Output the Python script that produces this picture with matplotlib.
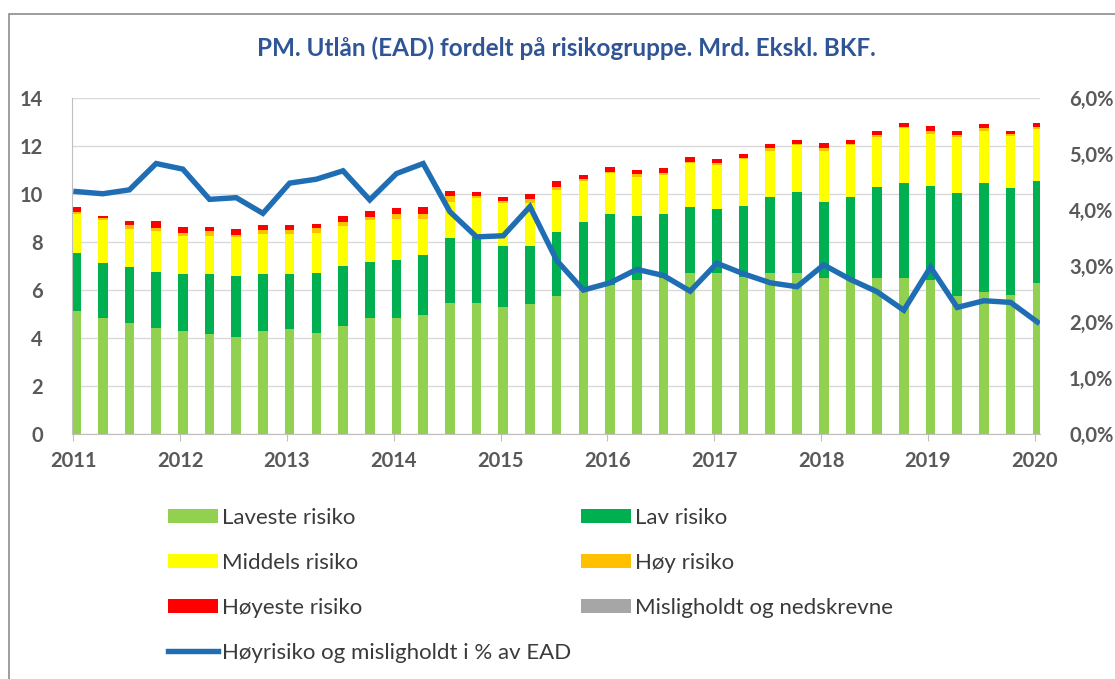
import matplotlib
matplotlib.use('Agg')
import matplotlib.pyplot as plt
from matplotlib.patches import Rectangle
from matplotlib.ticker import FuncFormatter
import numpy as np

plt.rcParams['font.family'] = ['Lato', 'DejaVu Sans']

# quarterly observations 2011 Q1 .. 2020 Q1 (37 points), mrd kr
laveste = [5.14, 4.82, 4.64, 4.43, 4.29, 4.17, 4.06, 4.31, 4.36, 4.22,
           4.50, 4.82, 4.82, 4.96, 5.47, 5.47, 5.28, 5.42, 5.75, 6.00,
           6.20, 6.42, 6.50, 6.72, 6.70, 6.56, 6.72, 6.72, 6.49, 6.42,
           6.49, 6.49, 6.40, 5.75, 5.93, 5.79, 6.31]
lav_top = [7.53, 7.14, 6.94, 6.74, 6.67, 6.67, 6.60, 6.67, 6.67, 6.72,
           7.00, 7.18, 7.25, 7.44, 8.18, 8.22, 7.83, 7.83, 8.43, 8.85,
           9.17, 9.10, 9.17, 9.44, 9.38, 9.50, 9.89, 10.10, 9.68, 9.89,
           10.28, 10.47, 10.33, 10.03, 10.47, 10.24, 10.56]
middels_top = [9.17, 8.92, 8.53, 8.47, 8.25, 8.26, 8.21, 8.33, 8.33, 8.39,
               8.67, 8.92, 8.96, 8.96, 9.68, 9.82, 9.61, 9.61, 10.17, 10.54,
               10.86, 10.72, 10.79, 11.28, 11.21, 11.44, 11.80, 12.04, 11.80, 12.04,
               12.39, 12.74, 12.50, 12.39, 12.64, 12.42, 12.70]
hoy_top = [9.27, 8.99, 8.71, 8.60, 8.39, 8.44, 8.31, 8.50, 8.50, 8.57,
           8.85, 9.06, 9.15, 9.15, 9.90, 9.92, 9.71, 9.78, 10.28, 10.63,
           10.93, 10.82, 10.89, 11.35, 11.31, 11.51, 11.90, 12.10, 11.90, 12.10,
           12.46, 12.81, 12.64, 12.46, 12.74, 12.50, 12.81]
hoyeste_top = [9.47, 9.08, 8.89, 8.89, 8.61, 8.61, 8.56, 8.69, 8.69, 8.75,
               9.08, 9.29, 9.40, 9.47, 10.13, 10.07, 9.86, 9.99, 10.54, 10.79,
               11.14, 11.00, 11.07, 11.53, 11.46, 11.67, 12.07, 12.25, 12.11, 12.25,
               12.64, 12.94, 12.83, 12.63, 12.90, 12.64, 12.97]
# Høyrisiko og misligholdt i % av EAD
andel = [4.33, 4.29, 4.36, 4.83, 4.73, 4.19, 4.22, 3.94, 4.48, 4.55,
         4.70, 4.18, 4.65, 4.83, 3.97, 3.52, 3.54, 4.06, 3.10, 2.57,
         2.70, 2.94, 2.83, 2.55, 3.05, 2.86, 2.70, 2.63, 3.02, 2.76,
         2.54, 2.21, 2.98, 2.26, 2.38, 2.35, 2.00]
years = [2011, 2012, 2013, 2014, 2015, 2016, 2017, 2018, 2019, 2020]

laveste = np.array(laveste)
lav = np.array(lav_top) - laveste
middels = np.array(middels_top) - np.array(lav_top)
hoy = np.array(hoy_top) - np.array(middels_top)
hoyeste = np.array(hoyeste_top) - np.array(hoy_top)
mislig = np.zeros(len(laveste))

x = np.arange(len(laveste))

fig = plt.figure(figsize=(11.15, 6.79), dpi=100)
fig.patches.append(Rectangle((0.0078, -0.1), 1.2, 1.1 - 14 / 679, transform=fig.transFigure,
                             fill=False, edgecolor='#8c8c8c', linewidth=1.2))
ax = fig.add_axes([72 / 1115, 1 - 434 / 679, (1040 - 72) / 1115, (434 - 98) / 679])
ax2 = ax.twinx()

w = 0.36
series = [(laveste, '#92D050', 'Laveste risiko'),
          (lav, '#00B050', 'Lav risiko'),
          (middels, '#FFFF00', 'Middels risiko'),
          (hoy, '#FFC000', 'Høy risiko'),
          (hoyeste, '#FF0000', 'Høyeste risiko'),
          (mislig, '#A6A6A6', 'Misligholdt og nedskrevne')]
bottom = np.zeros(len(x))
handles = {}
for vals, col, lab in series:
    handles[lab] = ax.bar(x, vals, w, bottom=bottom, color=col, label=lab, zorder=2)
    bottom += vals

line, = ax2.plot(x, andel, color='#1F6EB4', linewidth=3.9, solid_joinstyle='miter',
                 label='Høyrisiko og misligholdt i % av EAD', zorder=3)

ax.set_ylim(0, 14)
ax.set_yticks(range(0, 15, 2))
ax2.set_ylim(0, 6)
ax2.set_yticks(range(0, 7))
ax2.yaxis.set_major_formatter(FuncFormatter(lambda v, p: f'{v:.1f}%'.replace('.', ',')))
ax.set_xlim(-0.15, 36.1)
ax.set_xticks([4 * i - 0.1 for i in range(len(years))])
ax.set_xticklabels([str(y) for y in years])

ax.grid(axis='y', color='#d9d9d9', linewidth=1, zorder=0)
ax.set_axisbelow(True)
for a in (ax, ax2):
    for s in ('top', 'right'):
        a.spines[s].set_visible(False)
    a.spines['left'].set_visible(False)
ax.spines['left'].set_visible(True)
ax.spines['left'].set_color('#bfbfbf')
ax.spines['bottom'].set_color('#bfbfbf')
ax2.spines['bottom'].set_visible(False)
ax.tick_params(axis='y', length=0, pad=21, labelsize=14.5, labelcolor='#595959')
ax.tick_params(axis='x', length=5, color='#bfbfbf', pad=7, labelsize=14.5, labelcolor='#595959')
ax2.tick_params(axis='y', length=0, pad=21, labelsize=14.5, labelcolor='#595959')
for lbl in ax.get_yticklabels() + ax.get_xticklabels() + ax2.get_yticklabels():
    lbl.set_fontweight('bold')

fig.text(0.508, 1 - 48 / 679, 'PM. Utlån (EAD) fordelt på risikogruppe. Mrd. Ekskl. BKF.',
         ha='center', va='center', fontsize=17.5, fontweight='bold', color='#2F5597')

order = ['Laveste risiko', 'Middels risiko', 'Høyeste risiko']
hl = [handles[k] for k in order] + [line] + [handles[k] for k in
      ['Lav risiko', 'Høy risiko', 'Misligholdt og nedskrevne']]
labels = order + [line.get_label(), 'Lav risiko', 'Høy risiko', 'Misligholdt og nedskrevne']
leg = fig.legend(hl, labels, ncol=2, loc='upper left', bbox_to_anchor=(168 / 1115, 1 - 508 / 679),
                 frameon=False, fontsize=16, handlelength=2.25, handleheight=0.55,
                 handletextpad=0.18, labelspacing=1.12, columnspacing=0.45,
                 borderpad=0, borderaxespad=0)
for t in leg.get_texts():
    t.set_color('#3a3a3a')

fig.savefig('out.png', dpi=100)
